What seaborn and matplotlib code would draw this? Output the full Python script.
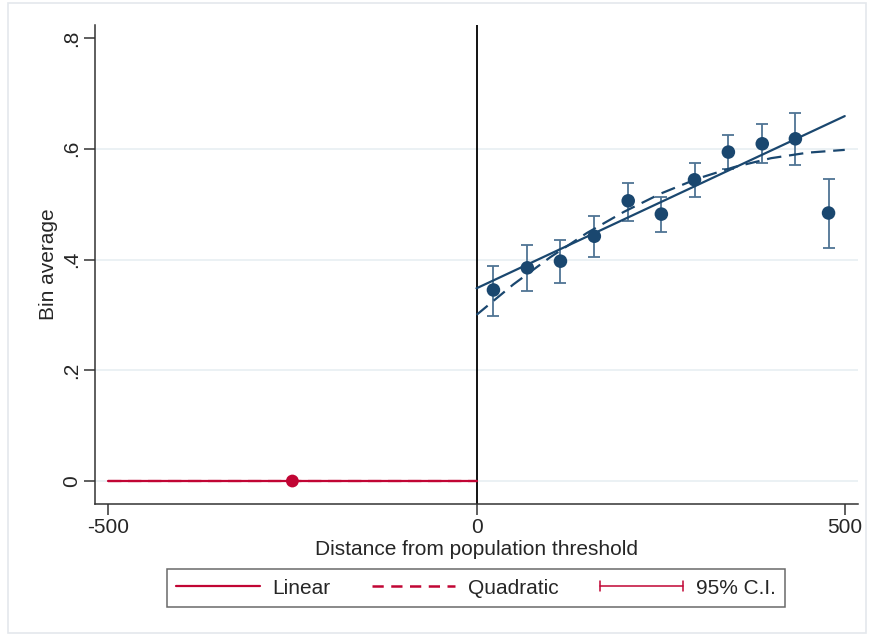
import numpy as np
import pandas as pd
import matplotlib
matplotlib.use("Agg")
import matplotlib.pyplot as plt
from matplotlib.lines import Line2D
from matplotlib.legend_handler import HandlerBase
from matplotlib.patches import Rectangle
import seaborn as sns

# ---- data ----
bin_x = [23, 69, 114, 160, 206, 251, 296, 342, 388, 433, 478]
bin_y = [0.345, 0.385, 0.397, 0.442, 0.506, 0.482, 0.544, 0.594, 0.609, 0.618, 0.484]
ci_lo = [0.298, 0.344, 0.357, 0.404, 0.470, 0.450, 0.513, 0.563, 0.574, 0.570, 0.421]
ci_hi = [0.389, 0.426, 0.436, 0.478, 0.539, 0.513, 0.575, 0.625, 0.644, 0.665, 0.545]

left_x = [-250]
left_y = [0.0]
left_fit_x = [-500, 0]
left_fit_y = [0.0, 0.0]

lin_x = [0, 500]
lin_y = [0.348, 0.659]

quad_x = [0, 50, 100, 150, 200, 250, 300, 350, 400, 450, 500]
quad_y = [0.300, 0.355, 0.404, 0.448, 0.486, 0.519, 0.546, 0.567, 0.583, 0.593, 0.598]

xticks = [-500, 0, 500]
yticks = [0, 0.2, 0.4, 0.6, 0.8]
ytick_labels = ["0", ".2", ".4", ".6", ".8"]

BLUE = "#1a476f"
CI_BLUE = "#4f7494"
RED = "#c10534"
FS = 15

sns.set_theme(style="white")
plt.rcParams["font.family"] = ["Liberation Sans", "DejaVu Sans"]

fig = plt.figure(figsize=(8.71, 6.36), dpi=100)
fig.patch.set_facecolor("white")
fig.patches.append(Rectangle((8 / 871, 3 / 636), 858 / 871, 630 / 636, transform=fig.transFigure,
                             fill=False, edgecolor="#e4e8ec", linewidth=1.2))
ax = fig.add_axes([95 / 871, 1 - 504 / 636, (858 - 95) / 871, (504 - 25) / 636])
ax.set_facecolor("white")

# grid lines
for gy in [0, 0.2, 0.4, 0.6]:
    ax.axhline(gy, color="#e8eff2", lw=1.2, zorder=0)

# left side (red)
df_left_fit = pd.DataFrame({"x": left_fit_x, "y": left_fit_y})
sns.lineplot(data=df_left_fit, x="x", y="y", ax=ax, color=RED, lw=1.6, zorder=3)
sns.lineplot(data=df_left_fit, x="x", y="y", ax=ax, color=RED, lw=1.6, ls=(0, (6, 3)), zorder=3)
sns.scatterplot(data=pd.DataFrame({"x": left_x, "y": left_y}), x="x", y="y", ax=ax,
                color=RED, s=85, edgecolor="none", zorder=4)

# right side (blue)
df_right = pd.DataFrame({"x": bin_x, "y": bin_y, "lo": ci_lo, "hi": ci_hi})
ax.errorbar(df_right["x"], df_right["y"],
            yerr=[df_right["y"] - df_right["lo"], df_right["hi"] - df_right["y"]],
            fmt="none", ecolor=CI_BLUE, elinewidth=1.3, capsize=4, capthick=1.3, zorder=3)
sns.lineplot(data=pd.DataFrame({"x": lin_x, "y": lin_y}), x="x", y="y", ax=ax,
             color=BLUE, lw=1.6, zorder=4)
sns.lineplot(data=pd.DataFrame({"x": quad_x, "y": quad_y}), x="x", y="y", ax=ax,
             color=BLUE, lw=1.6, ls=(0, (6.5, 3.5)), zorder=4)
sns.scatterplot(data=df_right, x="x", y="y", ax=ax, color=BLUE, s=95, edgecolor="none", zorder=5)

# threshold line
ax.axvline(0, color="black", lw=1.3, zorder=2)

ax.set_xlim(-518, 518)
ax.set_ylim(-0.0415, 0.8235)
ax.set_xticks(xticks)
ax.set_xticklabels([str(v) for v in xticks], fontsize=FS)
ax.set_yticks(yticks)
ax.set_yticklabels(ytick_labels, fontsize=FS, rotation=90, va="center")
ax.tick_params(axis="both", direction="out", length=8, width=1.1, color="#333333", pad=2,
               bottom=True, left=True)
for s in ["top", "right"]:
    ax.spines[s].set_visible(False)
for s in ["left", "bottom"]:
    ax.spines[s].set_color("#333333")
    ax.spines[s].set_linewidth(1.1)

ax.set_xlabel("Distance from population threshold", fontsize=FS, labelpad=2)
ax.set_ylabel("Bin average", fontsize=FS, labelpad=3)


class CapHandler(HandlerBase):
    def create_artists(self, legend, orig_handle, xdescent, ydescent, width, height, fontsize, trans):
        y = height / 2 - ydescent
        x0, x1 = -xdescent, width - xdescent
        h = height * 0.35
        arts = [Line2D([x0, x1], [y, y], color=RED, lw=1.1),
                Line2D([x0, x0], [y - h, y + h], color=RED, lw=1.1),
                Line2D([x1, x1], [y - h, y + h], color=RED, lw=1.1)]
        for a in arts:
            a.set_transform(trans)
        return arts


h_lin = Line2D([0, 1], [0, 0], color=RED, lw=1.6)
h_quad = Line2D([0, 1], [0, 0], color=RED, lw=1.8, linestyle=(0, (4.5, 3)))
h_ci = object()
leg = fig.legend([h_lin, h_quad, h_ci], ["Linear", "Quadratic", "95% C.I."],
                 handler_map={h_ci: CapHandler()}, loc="center",
                 bbox_to_anchor=(476 / 871, 1 - 588 / 636), ncol=3, fontsize=FS,
                 frameon=True, fancybox=False, handlelength=4.0, handletextpad=0.6,
                 columnspacing=2.0, borderpad=0.45, borderaxespad=0)
leg.get_frame().set_edgecolor("#444444")
leg.get_frame().set_linewidth(1.1)
for ln in leg.get_lines():
    ln.set_color(RED)

fig.savefig("out.png", dpi=100)
